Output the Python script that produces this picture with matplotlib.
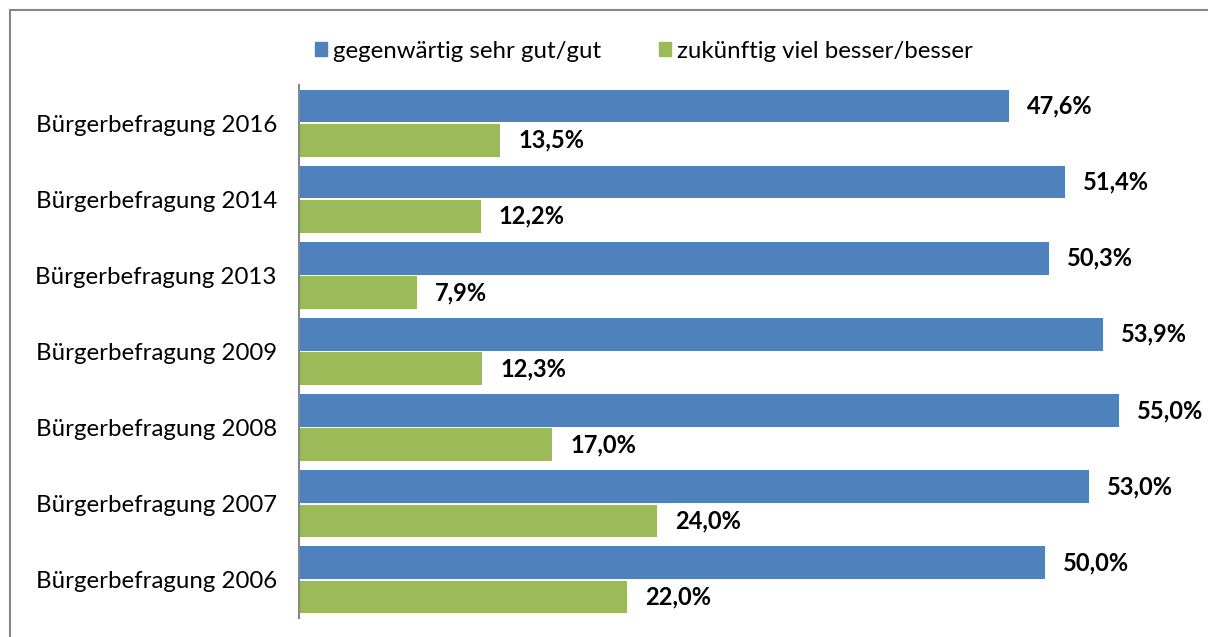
import matplotlib
matplotlib.use("Agg")
import matplotlib.pyplot as plt
from matplotlib.patches import Rectangle, Patch

categories = [
    "Bürgerbefragung 2016",
    "Bürgerbefragung 2014",
    "Bürgerbefragung 2013",
    "Bürgerbefragung 2009",
    "Bürgerbefragung 2008",
    "Bürgerbefragung 2007",
    "Bürgerbefragung 2006",
]
gegenwaertig = [47.6, 51.4, 50.3, 53.9, 55.0, 53.0, 50.0]
zukuenftig = [13.5, 12.2, 7.9, 12.3, 17.0, 24.0, 22.0]
series_names = ["gegenwärtig sehr gut/gut", "zukünftig viel besser/besser"]

BLUE = "#4F81BD"
GREEN = "#9BBB59"
GRAY = "#868686"

plt.rcParams["font.family"] = ["Lato", "DejaVu Sans"]

W, H = 1208, 637
fig = plt.figure(figsize=(W / 100, H / 100), dpi=100)

# plot area in pixel terms: axis line at x=299, 85..618 vertically
left, right = 299 / W, (299 + 60 * 14.91) / W
bottom, top = 1 - 618 / H, 1 - 85 / H
ax = fig.add_axes([left, bottom, right - left, top - bottom])

n = len(categories)
ypos = list(range(n))
h = 0.43
off = 0.225

ax.barh([y - off for y in ypos], gegenwaertig, height=h, color=BLUE, zorder=2)
ax.barh([y + off for y in ypos], zukuenftig, height=h, color=GREEN, zorder=2)

for y, v in zip(ypos, gegenwaertig):
    ax.annotate(f"{v:.1f}%".replace(".", ","), (v, y - off), xytext=(18, 0),
                textcoords="offset pixels", va="center", ha="left",
                fontsize=17, fontweight="bold")
for y, v in zip(ypos, zukuenftig):
    ax.annotate(f"{v:.1f}%".replace(".", ","), (v, y + off), xytext=(18, 0),
                textcoords="offset pixels", va="center", ha="left",
                fontsize=17, fontweight="bold")

ax.set_xlim(0, 60)
ax.set_ylim(n - 0.5, -0.5)
ax.set_yticks(ypos)
ax.set_yticklabels(categories, fontsize=17.3)
ax.tick_params(axis="y", length=0, pad=16)
ax.set_xticks([])
for s in ["top", "right", "bottom"]:
    ax.spines[s].set_visible(False)
ax.spines["left"].set_color(GRAY)
ax.spines["left"].set_linewidth(1.5)

handles = [Patch(color=BLUE), Patch(color=GREEN)]
fig.legend(handles, series_names, loc="center left",
           bbox_to_anchor=(315 / W, 1 - 51 / H), ncol=2, frameon=False,
           fontsize=17.3, handlelength=0.5, handleheight=0.5,
           handletextpad=0.25, columnspacing=2.4, borderaxespad=0, borderpad=0)

# outer chart frame (cut off at right and bottom)
fig.patches.append(Rectangle((10 / W, -0.1), 1.2, 1 - 10 / H + 0.1,
                             transform=fig.transFigure, fill=False,
                             edgecolor=GRAY, linewidth=1.5))

fig.savefig("out.png", dpi=100)
